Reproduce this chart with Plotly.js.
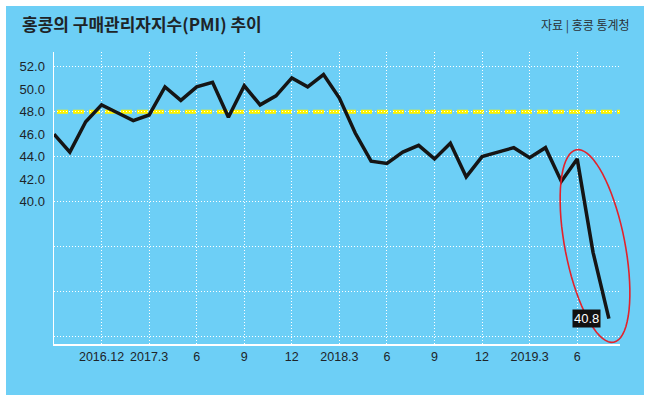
<!DOCTYPE html>
<html>
<head>
<meta charset="utf-8">
<script src="https://cdn.plot.ly/plotly-3.0.1.min.js"></script>
<style>
  html, body { margin: 0; padding: 0; background: #ffffff; }
  #chart { position: absolute; left: 6px; top: 6px; width: 638px; height: 389px; }
</style>
</head>
<body>
<div id="chart"></div>
<script>
// monthly PMI (last two points follow the drawn axis, not the label)
const months = [
  '2016-09', '2016-10', '2016-11', '2016-12',
  '2017-01', '2017-02', '2017-03', '2017-04', '2017-05', '2017-06',
  '2017-07', '2017-08', '2017-09', '2017-10', '2017-11', '2017-12',
  '2018-01', '2018-02', '2018-03', '2018-04', '2018-05', '2018-06',
  '2018-07', '2018-08', '2018-09', '2018-10', '2018-11', '2018-12',
  '2019-01', '2019-02', '2019-03', '2019-04', '2019-05', '2019-06',
  '2019-07', '2019-08'
];
const pmi = [
  46.0, 44.4, 47.1, 48.6,
  47.9, 47.2, 47.7, 50.2, 49.0, 50.2,
  50.6, 47.5, 50.3, 48.6, 49.4, 51.0,
  50.2, 51.3, 49.2, 46.1, 43.6, 43.4,
  44.4, 45.0, 43.8, 45.2, 42.2, 44.0,
  44.4, 44.8, 43.9, 44.8, 41.8, 43.8,
  35.5, 29.6
];
const xTickVals = ['2016-12', '2017-03', '2017-06', '2017-09', '2017-12', '2018-03',
                   '2018-06', '2018-09', '2018-12', '2019-03', '2019-06'];
const xTickText = ['2016.12', '2017.3', '6', '9', '12', '2018.3', '6', '9', '12', '2019.3', '6'];
const yTickVals = [40, 42, 44, 46, 48, 50, 52];
const yGridVals = [28, 32, 36, 40, 44, 48, 52];
const baseline = 48;
const lastLabel = '40.8';

// plot box inside the div, in px
const M = { l: 48, r: 24, t: 46, b: 51 };
const W = 638, H = 389;
const pw = W - M.l - M.r, ph = H - M.t - M.b;
const toPaperX = px => (px - M.l) / pw;
const toPaperY = py => (H - M.b - py) / ph;

// tilted red ellipse around the last drop
function ellipsePath(cx, cy, a, b, deg) {
  const th = deg * Math.PI / 180;
  const ux = Math.sin(th), uy = Math.cos(th);
  const vx = Math.cos(th), vy = -Math.sin(th);
  let d = '';
  for (let i = 0; i <= 72; i++) {
    const t = i / 72 * 2 * Math.PI;
    const px = cx + a * Math.cos(t) * ux + b * Math.sin(t) * vx;
    const py = cy + a * Math.cos(t) * uy + b * Math.sin(t) * vy;
    d += (i === 0 ? 'M' : 'L') + toPaperX(px).toFixed(4) + ',' + toPaperY(py).toFixed(4);
  }
  return d + 'Z';
}

const trace = {
  x: months,
  y: pmi,
  type: 'scatter',
  mode: 'lines',
  line: { color: '#151515', width: 3.5 },
  hoverinfo: 'skip'
};

const gridDots = '1px,2px';

const layout = {
  width: W,
  height: H,
  margin: M,
  paper_bgcolor: '#6dcff6',
  plot_bgcolor: '#6dcff6',
  showlegend: false,
  title: {
    text: '<b>홍콩의 구매관리자지수(PMI) 추이</b>',
    font: { family: 'Noto Sans CJK KR', size: 17, color: '#1e2428' },
    xref: 'container', x: 16 / W, xanchor: 'left',
    yref: 'container', y: 1 - 19 / H, yanchor: 'middle'
  },
  xaxis: {
    type: 'category',
    range: [0, 35.7],
    tickmode: 'array',
    tickvals: xTickVals,
    ticktext: xTickText,
    showgrid: true,
    gridcolor: '#ffffff',
    griddash: gridDots,
    gridwidth: 1,
    showline: true,
    linecolor: '#ffffff',
    linewidth: 1.5,
    ticks: '',
    zeroline: false,
    tickfont: { family: 'Liberation Sans, Noto Sans CJK KR', size: 12.5, color: '#1e2428' }
  },
  yaxis: {
    range: [27.35, 53.3],
    tickmode: 'array',
    tickvals: yTickVals,
    tickformat: '.1f',
    showgrid: false,
    minor: {
      tickmode: 'array',
      tickvals: yGridVals,
      showgrid: true,
      gridcolor: '#ffffff',
      griddash: gridDots,
      gridwidth: 1,
      ticks: ''
    },
    showline: true,
    linecolor: '#ffffff',
    linewidth: 1.5,
    ticks: '',
    ticklabelstandoff: 5,
    zeroline: false,
    tickfont: { family: 'Liberation Sans, Noto Sans CJK KR', size: 13, color: '#1e2428' }
  },
  shapes: [
    {
      type: 'line', xref: 'paper', yref: 'y',
      x0: toPaperX(51), x1: 1, y0: baseline, y1: baseline,
      line: { color: '#fff200', width: 4, dash: '11px,5px' },
      layer: 'below'
    },
    {
      type: 'path', xref: 'paper', yref: 'paper',
      path: ellipsePath(589, 240, 98, 30, 11),
      line: { color: '#e3222b', width: 1.6 },
      fillcolor: 'rgba(0,0,0,0)'
    }
  ],
  annotations: [
    {
      xref: 'paper', yref: 'paper',
      x: toPaperX(626), y: toPaperY(19),
      xanchor: 'right', yanchor: 'middle',
      text: '자료 | 홍콩 통계청',
      showarrow: false,
      font: { family: 'Noto Sans CJK KR', size: 12, color: '#2a3035' }
    },
    {
      x: months[months.length - 1],
      y: pmi[pmi.length - 1],
      xanchor: 'right', yanchor: 'middle',
      xshift: -8,
      text: lastLabel,
      showarrow: false,
      bgcolor: '#111111',
      borderpad: 1,
      font: { family: 'Liberation Sans', size: 13, color: '#ffffff' }
    }
  ]
};

Plotly.newPlot('chart', [trace], layout, { displayModeBar: false, staticPlot: true });
</script>
</body>
</html>
